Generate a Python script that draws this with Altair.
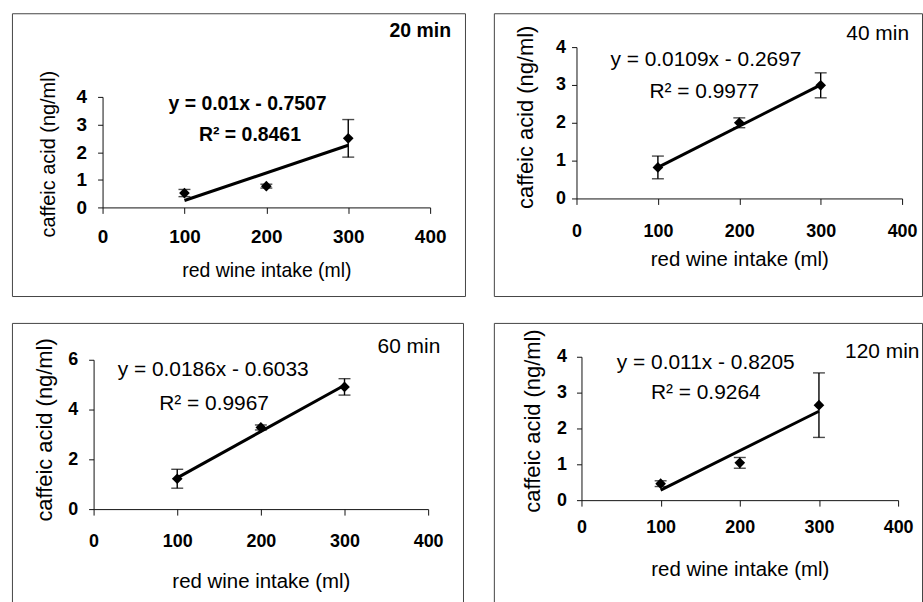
import altair as alt
import pandas as pd

# ---------------- data ----------------
panel_labels = ["20 min", "40 min", "60 min", "120 min"]
intake = [100, 200, 300]
mean_20 = [0.52, 0.77, 2.50]
err_20 = [0.13, 0.07, 0.68]
mean_40 = [0.82, 2.00, 2.99]
err_40 = [0.30, 0.13, 0.33]
mean_60 = [1.22, 3.28, 4.91]
err_60 = [0.38, 0.10, 0.33]
mean_120 = [0.46, 1.04, 2.65]
err_120 = [0.08, 0.15, 0.90]
slopes = [0.01, 0.0109, 0.0186, 0.011]
intercepts = [-0.7507, -0.2697, -0.6033, -0.8205]
eq_labels = ["y = 0.01x - 0.7507", "y = 0.0109x - 0.2697",
             "y = 0.0186x - 0.6033", "y = 0.011x - 0.8205"]
r2_labels = ["R\u00b2 = 0.8461", "R\u00b2 = 0.9977", "R\u00b2 = 0.9967", "R\u00b2 = 0.9264"]
y_max = [4, 4, 6, 4]
y_ticks = [[0, 1, 2, 3, 4], [0, 1, 2, 3, 4], [0, 2, 4, 6], [0, 1, 2, 3, 4]]
x_ticks = [0, 100, 200, 300, 400]
x_title = "red wine intake (ml)"
y_title = "caffeic acid (ng/ml)"

means = [mean_20, mean_40, mean_60, mean_120]
errs = [err_20, err_40, err_60, err_120]

# ---------------- layout / style (pixels, per panel) ----------------
FONT = "Liberation Sans"
layout = [
    dict(W=455, H=284, xr=[91, 420], yr=[195, 84], fs=19.5, tfs=19.5, yfs=20, lfs=19,
         xlp=14, ylp=11, tY=63, tX=-54, tYy=141, bold=True,
         eq=(177, 3.75), r2=(180, 2.62), lab=(388, 6.38)),
    dict(W=430, H=284, xr=[83, 410], yr=[186, 34], fs=21, tfs=20.5, yfs=22, lfs=18,
         xlp=18, ylp=6, tY=61, tX=-51, tYy=104, bold=False,
         eq=(159, 3.65), r2=(157, 2.80), lab=(370, 4.35)),
    dict(W=453, H=282, xr=[82, 418], yr=[187, 37], fs=21, tfs=20.5, yfs=22, lfs=18,
         xlp=18, ylp=11, tY=73, tX=-49, tYy=107, bold=False,
         eq=(143, 5.57), r2=(144, 4.22), lab=(377, 6.51)),
    dict(W=430, H=282, xr=[88, 406], yr=[178, 34], fs=21, tfs=20.5, yfs=22, lfs=18,
         xlp=12, ylp=10, tY=70, tX=-49, tYy=98, bold=False,
         eq=(157, 3.83), r2=(157, 3.00), lab=(380, 4.14)),
]


def panel(i):
    L = layout[i]
    df = pd.DataFrame({"intake": intake, "mean": means[i], "err": errs[i]})
    df["lo"] = df["mean"] - df["err"]
    df["hi"] = df["mean"] + df["err"]

    xs = alt.Scale(domain=[0, 400], range=L["xr"], nice=False, zero=False)
    ys = alt.Scale(domain=[0, y_max[i]], range=L["yr"], nice=False, zero=False)

    x_axis = alt.Axis(values=x_ticks, offset=-(L["H"] - L["yr"][0]), grid=False, format="d",
                      domainColor="#111", tickColor="#111", tickSize=6,
                      labelFont=FONT, labelFontSize=L["lfs"], labelFontWeight="bold",
                      labelColor="black", labelPadding=L["xlp"], labelFlush=False,
                      title=x_title, titleFont=FONT, titleFontSize=L["tfs"],
                      titleFontWeight="normal", titleColor="black",
                      titleY=L["tY"], titleBaseline="middle")
    y_axis = alt.Axis(values=y_ticks[i], offset=-L["xr"][0], grid=False, format="d",
                      domainColor="#111", tickColor="#111", tickSize=5,
                      labelFont=FONT, labelFontSize=L["lfs"], labelFontWeight="bold",
                      labelColor="black", labelPadding=L["ylp"], labelFlush=False,
                      title=y_title, titleFont=FONT, titleFontSize=L["yfs"],
                      titleFontWeight="normal", titleColor="black",
                      titleX=L["tX"], titleY=L["tYy"], titleBaseline="middle")

    base = alt.Chart(df)

    axes = base.mark_point(opacity=0).encode(
        x=alt.X("intake:Q", scale=xs, axis=x_axis),
        y=alt.Y("mean:Q", scale=ys, axis=y_axis),
    )

    trend = alt.Chart(pd.DataFrame({"intake": [min(intake), max(intake)]})).transform_calculate(
        fit=f"{slopes[i]} * datum.intake + ({intercepts[i]})"
    ).mark_line(color="black", strokeWidth=3).encode(
        x=alt.X("intake:Q", scale=xs),
        y=alt.Y("fit:Q", scale=ys),
    )

    bars = base.mark_rule(color="black", strokeWidth=1.4).encode(
        x=alt.X("intake:Q", scale=xs),
        y=alt.Y("lo:Q", scale=ys),
        y2="hi:Q",
    )
    cap_lo = base.mark_tick(color="black", orient="horizontal", size=12, thickness=1.4).encode(
        x=alt.X("intake:Q", scale=xs),
        y=alt.Y("lo:Q", scale=ys),
    )
    cap_hi = base.mark_tick(color="black", orient="horizontal", size=12, thickness=1.4).encode(
        x=alt.X("intake:Q", scale=xs),
        y=alt.Y("hi:Q", scale=ys),
    )
    pts = base.mark_point(shape="diamond", filled=True, size=115, color="black", opacity=1).encode(
        x=alt.X("intake:Q", scale=xs),
        y=alt.Y("mean:Q", scale=ys),
    )

    wt = "bold" if L["bold"] else "normal"
    txt = pd.DataFrame({
        "tx": [L["eq"][0], L["r2"][0], L["lab"][0]],
        "ty": [L["eq"][1], L["r2"][1], L["lab"][1]],
        "label": [eq_labels[i], r2_labels[i], panel_labels[i]],
    })
    texts = alt.Chart(txt).mark_text(font=FONT, fontSize=L["fs"], fontWeight=wt,
                                     color="black", align="center", baseline="middle").encode(
        x=alt.X("tx:Q", scale=xs),
        y=alt.Y("ty:Q", scale=ys),
        text="label:N",
    )

    return alt.layer(axes, trend, bars, cap_lo, cap_hi, pts, texts).properties(
        width=L["W"], height=L["H"]
    )


top = alt.hconcat(panel(0), panel(1), spacing=27)
bottom = alt.hconcat(panel(2), panel(3), spacing=29)
chart = alt.vconcat(top, bottom, spacing=25).properties(
    padding={"left": 11, "top": 11, "right": 0, "bottom": 0},
    background="white",
).configure_view(stroke="#444", strokeWidth=1, clip=False)

chart.save("out.html", embed_options={"renderer": "svg", "actions": False})
